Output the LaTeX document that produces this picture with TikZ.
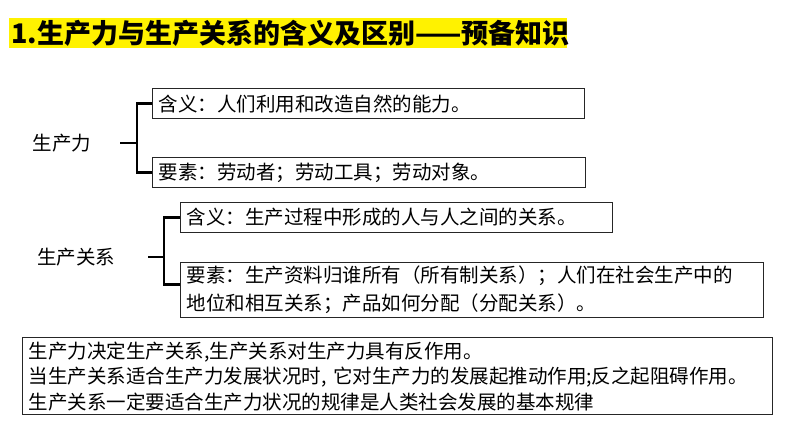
\documentclass[tikz,border=0pt]{standalone}
\usepackage{fontspec}
\setmainfont{Noto Sans CJK SC}
\begin{document}
\begin{tikzpicture}[x=1pt,y=-1pt]
\tikzset{
  box/.style={draw=black!85, line width=1.2pt, fill=white, anchor=north west,
    inner xsep=6pt, inner ysep=0pt, align=left,
    font=\fontsize{19.5}{28}\selectfont},
  brk/.style={line width=2.5pt, black},
  lbl/.style={font=\fontsize{19.5}{24}\selectfont, inner sep=0pt},
  titlebar/.style={fill=yellow, draw=none}
}
\useasboundingbox (0,0) rectangle (794,447);
\fill[white] (0,0) rectangle (794,447);
% title
\path[titlebar] (9,17.7) rectangle (567,48.3);
\node[anchor=west, inner sep=0pt, font=\fontsize{27}{30}\selectfont\bfseries] (title) at (11,33) {1.生产力与生产关系的含义及区别——预备知识};
% productive forces
\node[lbl] (sc) at (62,143) {生产力};
\node[box, text width=420pt, minimum height=30pt] (b1) at (152,88) {含义：人们利用和改造自然的能力。};
\node[box, text width=421pt, minimum height=30pt] (b2) at (152,157) {要素：劳动者；劳动工具；劳动对象。};
\coordinate (s1) at (120,143);
\coordinate (j1) at (137,143);
\draw[brk] (s1) -- (j1);
\draw[brk] (b1.west) -| (j1) |- (b2.west);
% relations of production
\node[lbl] (gx) at (76,257) {生产关系};
\node[box, text width=420pt, minimum height=30pt] (b3) at (180,202) {含义：生产过程中形成的人与人之间的关系。};
\node[box, text width=571pt, minimum height=55pt] (b4) at (180,262) {要素：生产资料归谁所有（所有制关系）；人们在社会生产中的\\地位和相互关系；产品如何分配（分配关系）。};
\coordinate (s2) at (148,257);
\coordinate (j2) at (164,257);
\draw[brk] (s2) -- (j2);
\draw[brk] (b3.west) -| (j2) |- ([yshift=5.5pt]b4.west);
% summary
\node[box, text width=738pt, minimum height=77pt, font=\fontsize{19.5}{25.5}\selectfont] (b5) at (22,337) {生产力决定生产关系,生产关系对生产力具有反作用。\\当生产关系适合生产力发展状况时, 它对生产力的发展起推动作用;反之起阻碍作用。\\生产关系一定要适合生产力状况的规律是人类社会发展的基本规律};
\end{tikzpicture}
\end{document}
